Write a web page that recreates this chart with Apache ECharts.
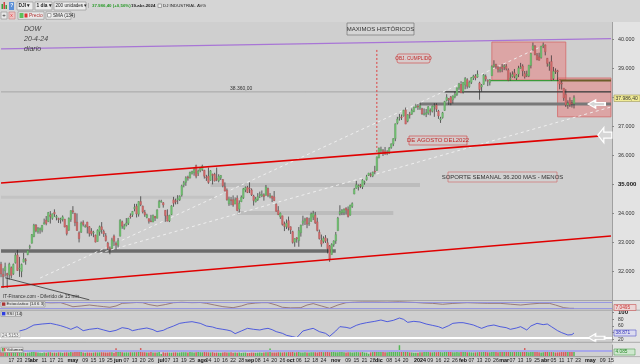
<!DOCTYPE html>
<html><head><meta charset="utf-8">
<script src="https://cdn.jsdelivr.net/npm/echarts@6/dist/echarts.min.js"></script>
<style>
html,body{margin:0;padding:0;}
#c{width:640px;height:364px;background:linear-gradient(to right,#cfcfcf 0,#cfcfcf 612px,#e3e3e3 612px,#e3e3e3 640px);}
</style></head><body><div id="c"></div>
<script>
// ---------- DATA ----------
const startDate = '2023-03-10';
const endDate = '2024-05-15';
const holidays = ['2023-04-07','2023-05-29','2023-06-19','2023-07-04','2023-09-04','2023-11-23','2023-12-25','2024-01-01','2024-01-15','2024-02-19','2024-03-29'];

// daily candles [open, close, low, high]
const ohlc = [
// mar 2023
[32250,31910,31800,32330],[31900,31820,31430,32110],[32020,32160,31820,32300],[31930,31870,31430,31950],[31880,32250,31720,32300],[32130,31860,31760,32170],[31920,32240,31880,32270],[32300,32560,32270,32640],[32570,32030,32020,32740],[32090,32110,31810,32500],[32000,32240,31800,32270],[32320,32430,32310,32640],[32400,32390,32230,32460],[32580,32720,32560,32740],[32830,32860,32770,32920],[32970,33270,32960,33290],
// abr
[33200,33600,33180,33640],[33600,33400,33350,33630],[33370,33480,33300,33530],[33430,33490,33300,33510],[33420,33590,33350,33600],[33630,33680,33620,33820],[33770,33650,33590,33910],[33720,34030,33700,34050],[33950,33890,33650,34080],[33830,33990,33780,33990],[34040,33980,33880,34140],[33860,33900,33760,33950],[33830,33790,33670,33850],[33790,33810,33650,33850],[33790,33880,33720,33930],[33800,33530,33520,33810],[33580,33300,33240,33590],[33420,33830,33400,33860],[33790,34100,33710,34100],
// may
[34090,34050,33980,34250],[34000,33680,33560,34020],[33700,33410,33400,34000],[33330,33130,33000,33380],[33350,33670,33330,33720],[33690,33620,33550,33760],[33540,33560,33510,33620],[33700,33530,33310,33710],[33540,33310,33200,33560],[33390,33300,33230,33490],[33330,33350,33180,33400],[33250,33010,33000,33270],[33030,33420,33030,33450],[33360,33540,33230,33580],[33540,33430,33300,33700],[33380,33290,33190,33440],[33230,33060,33030,33320],[32980,32800,32740,33020],[32800,32760,32590,32860],[32790,33090,32770,33160],[33220,33040,32880,33270],[32970,32910,32750,33030],
// jun
[32900,33060,32820,33150],[33210,33760,33210,33800],[33710,33560,33470,33750],[33480,33570,33440,33640],[33590,33670,33550,33840],[33660,33830,33600,33850],[33910,33880,33820,34000],[33950,34070,33880,34080],[34160,34210,34070,34330],[34250,33980,33860,34330],[33970,34410,33890,34420],[34410,34300,34250,34590],[34250,34050,34000,34270],[34040,33950,33880,34120],[33860,33950,33830,33990],[33820,33730,33650,33820],[33740,33710,33700,33950],[33700,33930,33700,33960],[33900,33850,33740,33910],[33830,34120,33830,34140],[34200,34410,34200,34470],
// jul
[34410,34420,34370,34470],[34370,34290,34200,34390],[34110,33920,33710,34110],[33920,33730,33730,34140],[33740,33940,33700,33950],[33960,34260,33940,34280],[34470,34350,34230,34570],[34440,34400,34310,34510],[34470,34510,34320,34630],[34470,34590,34430,34620],[34630,34950,34580,34990],[34980,35060,34900,35120],[35070,35230,34950,35280],[35250,35230,35130,35300],[35230,35410,35200,35440],[35380,35440,35340,35470],[35400,35520,35300,35580],[35650,35280,35210,35680],[35380,35460,35290,35510],[35470,35560,35420,35580],
// ago
[35510,35630,35460,35680],[35490,35280,35200,35500],[35250,35220,35120,35330],[35290,35070,35020,35580],[35140,35470,35130,35490],[35350,35310,35000,35370],[35350,35120,35100,35400],[35200,35180,35110,35580],[35130,35280,35070,35350],[35230,35310,35150,35320],[35170,34950,34900,35180],[34920,34770,34760,35070],[34800,34470,34440,34860],[34330,34500,34260,34580],[34470,34460,34280,34570],[34470,34290,34230,34620],[34320,34470,34320,34550],[34530,34100,34080,34620],[34150,34350,34030,34450],[34400,34560,34390,34620],[34540,34850,34500,34880],[34810,34890,34730,34930],[34900,34720,34700,34950],
// sep
[34870,34840,34700,35070],[34810,34640,34600,34860],[34600,34440,34270,34640],[34400,34500,34380,34570],[34470,34580,34430,34700],[34620,34660,34530,34750],[34600,34650,34560,34790],[34640,34580,34440,34690],[34620,34910,34620,34980],[34860,34620,34560,34890],[34580,34620,34520,34700],[34600,34520,34390,34610],[34570,34440,34430,34770],[34320,34070,34060,34340],[34100,33960,33940,34250],[33880,34010,33810,34030],[33920,33620,33580,33920],[33640,33550,33390,33720],[33540,33670,33460,33790],[33750,33510,33410,33890],
// oct
[33540,33430,33290,33550],[33370,33000,32960,33400],[33010,33130,32850,33140],[33160,33120,32990,33180],[33060,33410,32850,33530],[33330,33600,33200,33610],[33660,33740,33580,33920],[33740,33800,33600,33850],[33840,33630,33490,33870],[33640,33670,33570,33850],[33720,33980,33720,34030],[33870,34000,33770,34090],[33940,33670,33640,34050],[33710,33410,33380,33850],[33350,33130,33100,33440],[33080,32940,32850,33270],[33030,33140,32970,33210],[33160,33040,32980,33250],[32990,32780,32620,33140],[32880,32420,32330,32910],[32580,32930,32580,32970],[32920,33050,32850,33070],
// nov
[33050,33270,32950,33360],[33400,33840,33400,33880],[33980,34060,33930,34280],[34030,34100,33940,34150],[34020,34150,33940,34170],[34180,34110,33960,34210],[34130,33890,33860,34240],[33940,34280,33920,34300],[34240,34340,34190,34380],[34670,34830,34660,34880],[34860,34990,34850,35120],[34910,34950,34790,35000],[34980,34950,34870,35010],[34910,35150,34840,35180],[35080,35090,34990,35130],[35160,35270,35130,35330],[35310,35390,35290,35400],[35340,35330,35250,35410],[35290,35420,35250,35440],[35460,35430,35350,35640],[35480,35950,35470,35960],
// dic
[35920,36250,35900,36270],[36160,36200,36080,36300],[36170,36120,35980,36220],[36150,36050,36020,36290],[36070,36120,36010,36180],[36110,36250,36050,36290],[36270,36400,36230,36410],[36390,36580,36320,36590],[36580,37090,36490,37100],[37110,37250,37070,37330],[37290,37310,37200,37430],[37330,37310,37220,37410],[37360,37560,37340,37570],[37570,37080,37080,37650],[37180,37400,37140,37420],[37420,37390,37270,37500],[37420,37550,37400,37620],[37510,37660,37490,37680],[37660,37710,37630,37780],[37700,37690,37570,37780],
// ene 2024
[37630,37720,37570,37810],[37610,37430,37400,37640],[37400,37440,37380,37620],[37420,37470,37320,37600],[37460,37680,37400,37700],[37550,37530,37380,37620],[37520,37700,37480,37720],[37700,37710,37330,37800],[37740,37590,37500,37800],[37530,37360,37260,37570],[37220,37270,37120,37330],[37300,37470,37270,37500],[37550,37860,37540,37880],[37890,38000,37860,38110],[37960,37910,37740,37980],[38020,37810,37730,38050],[37910,38050,37790,38070],[38020,38110,37970,38200],[38100,38330,38050,38340],[38330,38470,38260,38500],[38450,38150,38150,38560],
// feb
[38200,38520,38130,38530],[38430,38650,38280,38700],[38610,38380,38300,38660],[38370,38520,38330,38580],[38520,38680,38460,38700],[38670,38730,38600,38780],[38740,38670,38590,38800],[38700,38800,38680,38930],[38500,38270,37920,38540],[38360,38420,38200,38460],[38450,38770,38440,38810],[38720,38630,38550,38790],[38590,38560,38390,38620],[38510,38610,38410,38630],[38750,39070,38750,39100],[39080,39130,39030,39280],[39130,39070,38990,39160],[39050,38970,38860,39080],[38940,38950,38860,39050],[39050,39000,38870,39150],
// mar
[39050,39090,38940,39140],[39070,38990,38930,39150],[38950,38590,38560,39000],[38620,38660,38580,38860],[38720,38790,38680,38900],[38850,38720,38660,38980],[38660,38770,38600,38800],[38800,39010,38700,39090],[39000,39040,38990,39190],[39080,38910,38730,39140],[38820,38710,38650,38910],[38760,38790,38700,38920],[38740,39110,38700,39120],[39100,39510,39000,39530],[39650,39780,39600,39890],[39770,39480,39450,39800],[39450,39310,39280,39530],[39390,39280,39270,39540],[39370,39760,39340,39780],[39780,39810,39700,39890],
// abr
[39810,39570,39450,39820],[39350,39170,39060,39360],[39110,39130,38920,39230],[39240,38600,38580,39450],[38650,38900,38600,39050],[38920,38890,38810,39000],[38920,38880,38560,38950],[38610,38460,38280,38610],[38490,38460,38270,38570],[38320,37980,37880,38320],[38100,37740,37670,38280],[37740,37800,37610,37900],[37900,37750,37670,38000],[37810,37780,37650,37910],[37780,37990,37620,38070]
];

// volume (millions)
const volume = [
390,360,330,370,340,720,380,300,330,320,300,280,250,270,280,320,330,310,280,270,
250,280,270,300,310,270,280,270,300,290,260,290,300,290,330,300,320,350,340,320,
280,270,290,280,270,280,300,290,300,310,300,290,280,310,300,270,640,330,370,300,
290,300,290,310,300,310,310,330,650,310,300,290,280,320,290,280,290,330,160,300,
270,290,280,270,290,300,280,290,310,300,310,290,330,300,280,300,320,310,300,320,
310,300,290,310,270,280,270,260,280,300,290,280,300,270,280,260,290,250,270,280,
240,250,280,270,260,270,280,270,290,300,310,620,290,280,290,310,300,290,310,300,
320,310,330,290,300,320,290,280,300,290,280,300,310,300,290,320,330,310,320,330,
310,340,330,300,310,330,320,310,290,300,300,280,300,320,310,300,330,280,270,180,
300,320,340,480,380,330,320,310,300,320,330,360,400,410,880,400,390,420,340,300,
280,260,270,260,300,310,330,320,320,310,300,320,310,330,320,300,330,340,370,330,
310,300,320,310,320,330,340,300,310,300,290,300,310,370,320,330,340,310,300,340,
350,330,310,320,390,360,330,370,350,320,330,330,340,320,330,650,350,310,320,330,
350,320,300,290,310,340,330,320,340,320,290,300,310,330,320,360,340,330,320,350
];

// RSI (14): [day index, value]
const rsiPoints = [[9,45],[12,50],[16,63],[20,66],[24,68],[27,64],[29,61],[32,55],[34,50],[37,58],[40,46],[43,50],[47,53],[50,48],[53,43],[56,47],[59,55],[62,52],[64,46],[67,50],[71,54],[74,49],[76,43],[79,47],[81,53],[84,60],[87,68],[90,71],[93,73],[97,68],[100,60],[103,57],[105,53],[108,50],[110,48],[112,45],[114,37],[117,45],[120,53],[123,50],[126,48],[128,51],[130,53],[132,49],[134,43],[137,38],[139,32],[142,28],[144,25],[147,45],[150,50],[152,53],[155,43],[158,38],[160,29],[163,45],[165,58],[168,56],[170,53],[173,62],[175,66],[178,70],[182,74],[185,78],[188,73],[191,77],[194,84],[196,80],[198,71],[201,74],[204,72],[207,66],[210,62],[213,58],[215,53],[218,61],[220,68],[223,70],[225,70],[228,66],[230,63],[232,58],[234,53],[237,60],[240,63],[243,58],[246,55],[248,50],[251,54],[253,58],[256,48],[258,60],[261,68],[264,64],[266,66],[268,58],[271,46],[273,40],[276,33],[278,34],[279,39]];

// Estocástico (14 6 3): [day index, value]
const stochPoints = [[0,85],[4,70],[9,55],[13,68],[16,80],[20,84],[24,78],[29,80],[32,60],[35,37],[39,45],[43,55],[47,45],[50,38],[53,31],[56,45],[59,73],[63,78],[66,82],[69,80],[72,60],[76,45],[80,60],[84,80],[88,84],[93,80],[97,82],[100,73],[104,55],[108,38],[113,27],[117,45],[120,66],[124,76],[127,80],[130,80],[134,55],[137,31],[141,25],[146,27],[149,55],[152,70],[156,45],[160,20],[164,55],[168,80],[172,85],[176,88],[182,88],[188,86],[194,90],[198,86],[202,82],[206,76],[210,73],[215,63],[220,72],[227,80],[232,76],[237,73],[243,73],[248,64],[253,55],[258,66],[262,73],[267,73],[270,55],[274,27],[277,20],[279,20]];

// x tick labels [date, text]
const tickLabels = [
['2023-03-17','17'],['2023-03-23','23'],['2023-03-29','29'],['2023-04-03','abr'],['2023-04-11','11'],['2023-04-17','17'],['2023-04-21','21'],
['2023-05-01','may'],['2023-05-09','09'],['2023-05-15','15'],['2023-05-19','19'],['2023-05-25','25'],
['2023-06-01','jun'],['2023-06-07','07'],['2023-06-13','13'],['2023-06-20','20'],['2023-06-26','26'],
['2023-07-03','jul'],['2023-07-07','07'],['2023-07-13','13'],['2023-07-19','19'],['2023-07-25','25'],
['2023-08-01','ago'],['2023-08-04','04'],['2023-08-10','10'],['2023-08-16','16'],['2023-08-22','22'],['2023-08-28','28'],
['2023-09-01','sep'],['2023-09-08','08'],['2023-09-14','14'],['2023-09-20','20'],['2023-09-26','26'],
['2023-10-02','oct'],['2023-10-06','06'],['2023-10-12','12'],['2023-10-18','18'],['2023-10-24','24'],
['2023-11-01','nov'],['2023-11-09','09'],['2023-11-15','15'],['2023-11-21','21'],['2023-11-28','28'],
['2023-12-01','dic'],['2023-12-08','08'],['2023-12-14','14'],['2023-12-20','20'],
['2024-01-02','2024'],['2024-01-09','09'],['2024-01-16','16'],['2024-01-22','22'],['2024-01-26','26'],
['2024-02-01','feb'],['2024-02-07','07'],['2024-02-13','13'],['2024-02-20','20'],['2024-02-26','26'],
['2024-03-01','mar'],['2024-03-07','07'],['2024-03-13','13'],['2024-03-19','19'],['2024-03-25','25'],
['2024-04-01','abr'],['2024-04-05','05'],['2024-04-11','11'],['2024-04-17','17'],['2024-04-23','23'],
['2024-05-01','may'],['2024-05-09','09'],['2024-05-15','15']
];

// drawn lines on the price chart: [dayIndex, price]
const purpleLine = [[0,39670],[297,40030]];
const redUpper = [[0,35050],[297,36700]];
const redLower = [[0,31460],[297,33220]];
const blackDiag = [[2,31780],[43,31020]];
const dashA = [[48,32630],[297,37670]];
const dashB = [[19,31770],[262,39720]];
const bandDark = [[0,32700],[163,32700]];
const band35000 = [[102,34980],[204,34980]];
const band34560 = [[0,34560],[104,34560]];
const band34000 = [[115,34010],[191,34010]];
const band37770 = [[204,37770],[297,37770]];
const grayFull = [[0,38190],[297,38190]];
const blackSeg = [[216,38190],[297,38190]];
const greenSeg = [[238,38580],[272,38580]];
const oliveSeg = [[272,38580],[297,38580]];
const objArrow = [[183,36120],[183,39700]];
const boxHigh = [[239,39910],[275,38600]];
const boxLow = [[271,38670],[297,37330]];
const arrowMain = [290,37770];
const arrowLower = [294,36700];
const arrowRsi = [290,24.5];
const rsiLevel = 24.5;
const lastPrice = '37.986,40';

// ---------- BUILD ----------
function tradingDays(s, e, hol) {
  const out = []; const d = new Date(s + 'T12:00:00Z'); const end = new Date(e + 'T12:00:00Z');
  while (d <= end) { const wd = d.getUTCDay(); const k = d.toISOString().slice(0, 10);
    if (wd !== 0 && wd !== 6 && !hol.includes(k)) out.push(k); d.setUTCDate(d.getUTCDate() + 1); }
  return out;
}
const dates = tradingDays(startDate, endDate, holidays);
const labelMap = new Map(tickLabels);
const FONT = 'Liberation Sans, Arial, sans-serif';
const fmtK = v => Math.floor(v / 1000) + '.' + String(v % 1000).padStart(3, '0');

const chart = echarts.init(document.getElementById('c'), null, {renderer: 'canvas'});

const GL = 0, GW = 612;
const grids = [
  {left: GL, top: 22, width: GW, height: 278.4},
  {left: GL, top: 300.8, width: GW, height: 9.4},
  {left: GL, top: 310.7, width: GW, height: 30.6},
  {left: GL, top: 345, width: GW, height: 11}
];
const xAxes = grids.map((g, i) => ({
  type: 'category', gridIndex: i, data: dates, boundaryGap: true,
  axisLine: {show: i === 3, lineStyle: {color: '#9a9a9a'}},
  axisTick: {show: false},
  axisLabel: i === 3 ? {
    show: true, interval: (idx, v) => labelMap.has(v), margin: 2, fontSize: 5.2, color: '#222', fontFamily: FONT,
    formatter: v => { const t = labelMap.get(v) || ''; return (/^[a-z]/.test(t) || t === '2024') ? '{m|' + t + '}' : t; },
    rich: {m: {fontWeight: 'bold', fontSize: 5.4, color: '#111', fontFamily: FONT}}
  } : {show: false},
  splitLine: {show: false}
}));
const yAxes = [
  {type: 'value', gridIndex: 0, position: 'right', min: 31000, max: 40600, interval: 1000,
   splitLine: {show: false}, axisLine: {show: true, lineStyle: {color: '#a0a0a0'}},
   axisTick: {show: true, length: 2, lineStyle: {color: '#888'}},
   axisLabel: {fontSize: 5.4, color: '#333', margin: 6, fontFamily: FONT, showMinLabel: false, showMaxLabel: false,
     formatter: v => v === 35000 ? '{b|' + fmtK(v) + '}' : fmtK(v),
     rich: {b: {fontWeight: 'bold', fontSize: 6, color: '#111', fontFamily: FONT}}}},
  {type: 'value', gridIndex: 1, position: 'right', min: 0, max: 100, splitLine: {show: false},
   axisLine: {show: true, lineStyle: {color: '#a0a0a0'}}, axisTick: {show: false}, axisLabel: {show: false}},
  {type: 'value', gridIndex: 2, position: 'right', min: 14, max: 106, splitLine: {show: false},
   axisLine: {show: true, lineStyle: {color: '#a0a0a0'}},
   axisTick: {show: true, length: 2, customValues: [20, 40, 60, 80, 100], lineStyle: {color: '#888'}},
   axisLabel: {customValues: [20, 60, 80, 100], fontSize: 5, color: '#333', margin: 6, fontFamily: FONT,
     formatter: v => v === 100 ? '{b|100}' : String(v), rich: {b: {fontWeight: 'bold', fontSize: 6, color: '#111'}}}},
  {type: 'value', gridIndex: 3, position: 'right', min: 0, max: 900, splitLine: {show: false},
   axisLine: {show: true, lineStyle: {color: '#a0a0a0'}}, axisTick: {show: false}, axisLabel: {show: false}}
];

function seg(data, color, width, z, type) {
  return {type: 'line', xAxisIndex: 0, yAxisIndex: 0, data: data, symbol: 'none', silent: true, z: z,
    lineStyle: {color: color, width: width, type: type || 'solid', cap: 'butt'}};
}
const arrowPath = 'path://M0,5L6,0L6,3L14,3L14,7L6,7L6,10Z';

const series = [
  // pink zones + white arrows
  {type: 'line', xAxisIndex: 0, yAxisIndex: 0, data: [boxHigh[0]], symbol: 'none', lineStyle: {opacity: 0}, z: 1, silent: true,
   markArea: {silent: true, itemStyle: {color: 'rgba(236,112,112,0.45)', borderColor: '#d46a6a', borderWidth: 0.8},
     data: [[{coord: boxHigh[0]}, {coord: boxHigh[1]}], [{coord: boxLow[0]}, {coord: boxLow[1]}]]},
   markPoint: {silent: true, label: {show: false}, itemStyle: {color: '#d6d6d6', borderColor: '#ffffff', borderWidth: 1.3},
     data: [{coord: arrowMain, symbol: arrowPath, symbolSize: [17, 8]},
            {coord: arrowLower, symbol: arrowPath, symbolSize: [14, 15]}]}},
  seg(band34560, '#c3c3c3', 3, 1),
  seg(band35000, '#bcbcbc', 4, 1),
  seg(band34000, '#bcbcbc', 4, 1),
  seg(bandDark, '#6c6c6c', 3.5, 1),
  seg(band37770, '#787878', 3, 1),
  seg(grayFull, '#9a9a9a', 0.8, 1),
  seg(blackSeg, '#222222', 1, 1),
  seg(greenSeg, '#3a9a3a', 1.4, 1),
  seg(oliveSeg, '#6b5d2a', 2, 1),
  seg(dashA, '#f2f2f2', 0.9, 2, [3, 3]),
  seg(dashB, '#f2f2f2', 0.9, 2, [3, 3]),
  // candles
  {type: 'custom', xAxisIndex: 0, yAxisIndex: 0, z: 3, silent: true,
   data: ohlc.map((d, i) => [i, d[0], d[1], d[2], d[3]]),
   encode: {x: 0, y: [1, 2, 3, 4]},
   renderItem: function (params, api) {
     const i = api.value(0), o = api.value(1), c = api.value(2), l = api.value(3), h = api.value(4);
     const po = api.coord([i, o]), pc = api.coord([i, c]), pl = api.coord([i, l]), ph = api.coord([i, h]);
     const w = api.size([1, 0])[0] * 0.8;
     const up = c >= o;
     const top = Math.min(po[1], pc[1]); const bh = Math.max(Math.abs(po[1] - pc[1]), 0.8);
     return {type: 'group', children: [
       {type: 'line', shape: {x1: ph[0], y1: ph[1], x2: pl[0], y2: pl[1]}, style: {stroke: '#2a2a2a', lineWidth: 0.7}},
       {type: 'rect', shape: {x: po[0] - w / 2, y: top, width: w, height: bh},
        style: {fill: up ? '#72c472' : '#d56b6b', stroke: up ? '#4d8f4d' : '#9c4848', lineWidth: 0.3}}
     ]};
   }},
  seg(purpleLine, '#a875d6', 1.3, 4),
  seg(redUpper, '#e00000', 1.6, 4),
  seg(redLower, '#e00000', 1.6, 4),
  seg(blackDiag, '#333333', 0.8, 4),
  {type: 'line', xAxisIndex: 0, yAxisIndex: 0, z: 4, silent: true, symbol: 'none',
   lineStyle: {color: '#e03030', width: 0.9, type: [2, 2]},
   data: [{value: objArrow[0]}, {value: objArrow[1], symbol: 'triangle', symbolSize: [5, 6],
     itemStyle: {color: '#d0d0d0', borderColor: '#e03030', borderWidth: 0.8}}]},
  // stochastic
  {type: 'line', xAxisIndex: 1, yAxisIndex: 1, data: stochPoints, symbol: 'none', silent: true,
   lineStyle: {color: '#8a6464', width: 0.8},
   markLine: {silent: true, symbol: 'none', label: {show: false},
     lineStyle: {color: '#8c8ce6', width: 0.8, type: 'solid'}, data: [{yAxis: 80}, {yAxis: 20}]}},
  // RSI
  {type: 'line', xAxisIndex: 2, yAxisIndex: 2, data: rsiPoints, symbol: 'none', silent: true,
   lineStyle: {color: '#2f3fe0', width: 0.8},
   markLine: {silent: true, symbol: 'none', label: {show: false},
     lineStyle: {color: '#ffffff', width: 1.8, type: 'solid'}, data: [{yAxis: rsiLevel}]},
   markPoint: {silent: true, label: {show: false}, itemStyle: {color: '#d6d6d6', borderColor: '#ffffff', borderWidth: 1.3},
     data: [{coord: arrowRsi, symbol: arrowPath, symbolSize: [16, 8]}]}},
  // volume
  {type: 'bar', xAxisIndex: 3, yAxisIndex: 3, barWidth: 1.5, silent: true,
   data: volume.map((v, i) => ({value: v, itemStyle: {color: ohlc[i][1] >= ohlc[i][0] ? '#55b855' : '#d65a5a'}})),
   markLine: {silent: true, symbol: 'none', label: {show: false},
     lineStyle: {color: '#a8a8ea', width: 2, type: 'solid'}, data: [{yAxis: 450}]}}
];

// ---------- chrome / text ----------
function txt(x, y, s, o) { return Object.assign({type: 'text', x: x, y: y, z: 100,
  style: Object.assign({text: s, fontSize: 5, fill: '#222', fontFamily: FONT, verticalAlign: 'middle'}, o || {})}); }
function box(x, y, w, h, fill, stroke, r) { return {type: 'rect', z: 99, shape: {x: x, y: y, width: w, height: h, r: r || 0},
  style: {fill: fill, stroke: stroke || null, lineWidth: 0.7}}; }
function hline(y, c) { return {type: 'line', z: 98, shape: {x1: 0, y1: y, x2: 640, y2: y}, style: {stroke: c || '#9c9c9c', lineWidth: 0.8}}; }

const graphic = [
  box(0, 0, 640, 22, '#d5d5d5'), hline(21.5, '#a8a8a8'),
  box(1.5, 4, 1.5, 5, '#3aa03a'), box(3.5, 2, 1.5, 7, '#d04040'), box(5.5, 5, 1.5, 4, '#3aa03a'),
  box(9, 2, 5, 8, '#5b8fd6'), txt(10.3, 6, '?', {fill: '#fff', fontSize: 5, fontWeight: 'bold'}),
  box(17, 2, 16, 8, '#ececec', '#999'), txt(18.5, 6, 'DJI ▾', {fontWeight: 'bold', fontSize: 4.8}),
  box(35, 2, 17, 8, '#ececec', '#999'), txt(36.5, 6, '1 día ▾', {fontWeight: 'bold', fontSize: 4.8}),
  box(54, 2, 32, 8, '#ececec', '#999'), txt(55.5, 6, '200 unidades ▾', {fontSize: 4.6}),
  txt(88, 6, '|', {fill: '#888'}),
  txt(92, 6, '37.986,40 (+0,56%)', {fill: '#2a9a2a', fontWeight: 'bold', fontSize: 4.4}),
  txt(131, 6, '19-abr-2024', {fontWeight: 'bold', fontSize: 4.4}),
  box(158, 4, 3.5, 3.5, '#eee', '#888'), txt(163, 6, 'DJ INDUSTRIAL AVG', {fontSize: 4.4}),
  box(1, 12, 6, 7, '#e8e8e8', '#999'), txt(2.2, 15.7, '+', {fontSize: 6}),
  box(9, 12, 6, 7, '#efc4c4', '#c88'), txt(10.3, 15.5, 'x', {fill: '#d33', fontSize: 5}),
  box(18, 11.8, 26, 7.5, '#e8e8e8', '#999'), box(19.5, 13, 4, 5, '#5cbf5c'), box(24.5, 13.5, 3, 4, '#d33'),
  txt(29, 15.6, 'Precio', {fill: '#b03030', fontSize: 4.8}),
  box(46, 11.8, 25, 7.5, '#e8e8e8', '#999'), box(47.5, 13.5, 3.5, 3.5, '#fff', '#888'),
  txt(53, 15.6, 'SMA (134)', {fontSize: 4.6}),
  // notes
  txt(24, 29.5, 'DOW', {fontStyle: 'italic', fontSize: 7, fill: '#444'}),
  txt(24, 39.5, '20-4-24', {fontStyle: 'italic', fontSize: 7, fill: '#444'}),
  txt(24, 49.5, 'diario', {fontStyle: 'italic', fontSize: 7, fill: '#444'}),
  box(347, 23, 67, 12, '#d5d5d5', '#777'),
  txt(380.5, 29.3, 'MAXIMOS HISTÓRICOS', {align: 'center', fontSize: 6, fill: '#333'}),
  box(397, 54, 33, 9, '#d8cccc', '#d05050', 2),
  txt(413.5, 58.6, 'OBJ. CUMPLIDO', {align: 'center', fontSize: 4.7, fill: '#c02a2a'}),
  box(409, 136, 58, 9, '#d3caca', '#d05050'),
  txt(438, 140.6, 'DE AGOSTO DEL2022', {align: 'center', fontSize: 6, fill: '#c02a2a'}),
  box(448, 172, 109, 10, '#d1d1d1', '#d07070'),
  txt(502.5, 177.2, 'SOPORTE SEMANAL 36.200 MAS - MENOS', {align: 'center', fontSize: 6, fill: '#333'}),
  txt(230, 88.5, '38.360,00', {fontSize: 5, fill: '#333'}),
  txt(3, 297, 'IT-Finance.com - Diferido de 15 min', {fontSize: 4.8, fill: '#333'}),
  // price tag
  box(614, 95, 26, 6.5, '#f1ec96', '#a9a36a'),
  txt(615.5, 98.4, lastPrice, {fontSize: 5, fill: '#333'}),
  // panel separators
  hline(300.5), hline(310.2), hline(342.3), hline(356.6, '#a6a6a6'),
  // panel labels
  box(1, 301.4, 44, 5.6, '#e2e2e2', '#999'), box(2, 302.4, 3.4, 3.4, '#a33'),
  txt(6.5, 304.3, 'Estocástico (14 6 3)', {fontSize: 4.3}),
  box(614, 304.5, 22, 6, '#ecd6d6', '#c66'), txt(615.5, 307.6, '7,0495', {fontSize: 4.8, fill: '#c33'}),
  box(1, 311.2, 20, 5.2, '#e2e2e2', '#999'), box(2, 312, 3.4, 3.4, '#2f3fe0'),
  txt(6.5, 313.8, 'RSI (14)', {fontSize: 4.3}),
  box(1, 332.5, 19, 5.4, '#f0f0f0', '#bbb'), txt(2, 335.3, '24.5153', {fontSize: 4.6, fill: '#666'}),
  box(614, 330, 22, 6, '#dcdcf0', '#6666cc'), txt(615.5, 333, '38.871', {fontSize: 4.8, fill: '#3333bb'}),
  box(1, 347.3, 22, 5.2, '#e2e2e2', '#999'), box(2, 348, 1.7, 3.4, '#5b5'), box(3.7, 348, 1.7, 3.4, '#d55'),
  txt(6.5, 349.9, 'Volumen', {fontSize: 4.3}),
  box(614, 349, 21, 6, '#cfe8cf', '#6a6'), txt(615.5, 352, '4.085', {fontSize: 4.8, fill: '#2a8a2a'})
];

chart.setOption({
  animation: false,
  backgroundColor: 'transparent',
  textStyle: {fontFamily: FONT},
  grid: grids, xAxis: xAxes, yAxis: yAxes, series: series, graphic: graphic
});
</script></body></html>
